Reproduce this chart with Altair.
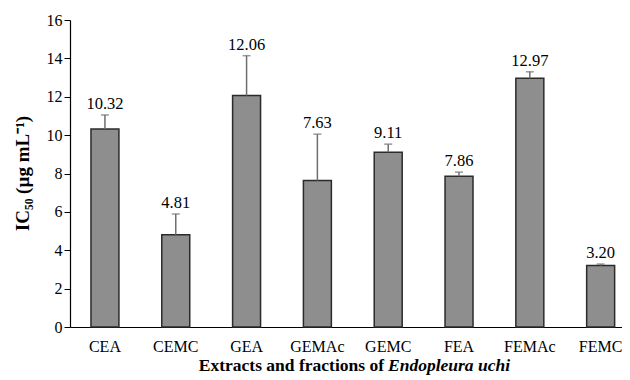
import altair as alt
import pandas as pd

categories = ["CEA", "CEMC", "GEA", "GEMAc", "GEMC", "FEA", "FEMAc", "FEMC"]
ic50 = [10.32, 4.81, 12.06, 7.63, 9.11, 7.86, 12.97, 3.20]
sd = [0.73, 1.08, 2.08, 2.42, 0.42, 0.21, 0.33, 0.08]
y_ticks = [0, 2, 4, 6, 8, 10, 12, 14, 16]

df = pd.DataFrame({"cat": categories, "ic50": ic50, "sd": sd})
df["upper"] = df["ic50"] + df["sd"]
df["label"] = [f"{v:.2f}" for v in ic50]

FONT = "Liberation Serif"

x_axis = alt.Axis(
    title=None, labelAngle=0, ticks=False, labelPadding=11,
    labelFont=FONT, labelFontSize=16, labelColor="black",
    domainColor="black", domainWidth=1.2,
)
x_scale = alt.Scale(paddingInner=0.605, paddingOuter=0.2, align=0.74)
y_scale = alt.Scale(domain=[0, 16], nice=False)
y_axis = alt.Axis(
    title="IC₅₀ (µg mL⁻¹)", values=y_ticks, grid=False, labelOverlap=False,
    labelFlush=False, labelBound=False,
    labelFont=FONT, labelFontSize=16, labelColor="black",
    titleFont=FONT, titleFontSize=19, titleFontWeight="bold",
    titleColor="black", titleX=-38, titleY=153, titleBaseline="bottom",
    tickColor="black", tickSize=6, domainColor="black", domainWidth=1.2,
)


def X():
    return alt.X("cat:N", sort=categories, scale=x_scale, axis=x_axis)


def Y(field):
    return alt.Y(field, scale=y_scale, axis=y_axis)


base = alt.Chart(df)

bars = base.mark_bar(color="#8e8e8e", stroke="#2b2b2b", strokeWidth=1.5).encode(
    x=X(), y=Y("ic50:Q")
)
rules = base.mark_rule(color="#6e6e6e", strokeWidth=1.5).encode(
    x=X(), y=Y("ic50:Q"), y2="upper:Q"
)
caps = base.mark_tick(color="#6e6e6e", thickness=1.5, size=8, orient="horizontal").encode(
    x=X(), y=Y("upper:Q")
)
labels = base.mark_text(font=FONT, fontSize=16.5, baseline="bottom", dy=-3, color="black").encode(
    x=X(), y=Y("upper:Q"), text="label:N"
)

title_df = pd.DataFrame({"t": ["x"]})
t1 = alt.Chart(title_df).mark_text(
    text="Extracts and fractions of", font=FONT, fontSize=17.5, fontWeight="bold",
    align="right", baseline="middle", color="black",
).encode(x=alt.value(314), y=alt.value(346))
t2 = alt.Chart(title_df).mark_text(
    text="Endopleura uchi", font=FONT, fontSize=17.5, fontWeight="bold", fontStyle="italic",
    align="left", baseline="middle", color="black",
).encode(x=alt.value(318), y=alt.value(346))

chart = alt.layer(bars, rules, caps, labels, t1, t2).properties(
    width=552, height=307,
    autosize=alt.AutoSizeParams(type="none"),
    padding={"left": 62, "top": 12, "right": 0, "bottom": 50},
).configure_view(stroke=None).configure_axis(grid=False).configure_axisY(labelOverlap=False)

chart.save("out.html", embed_options={"renderer": "svg", "actions": False})
